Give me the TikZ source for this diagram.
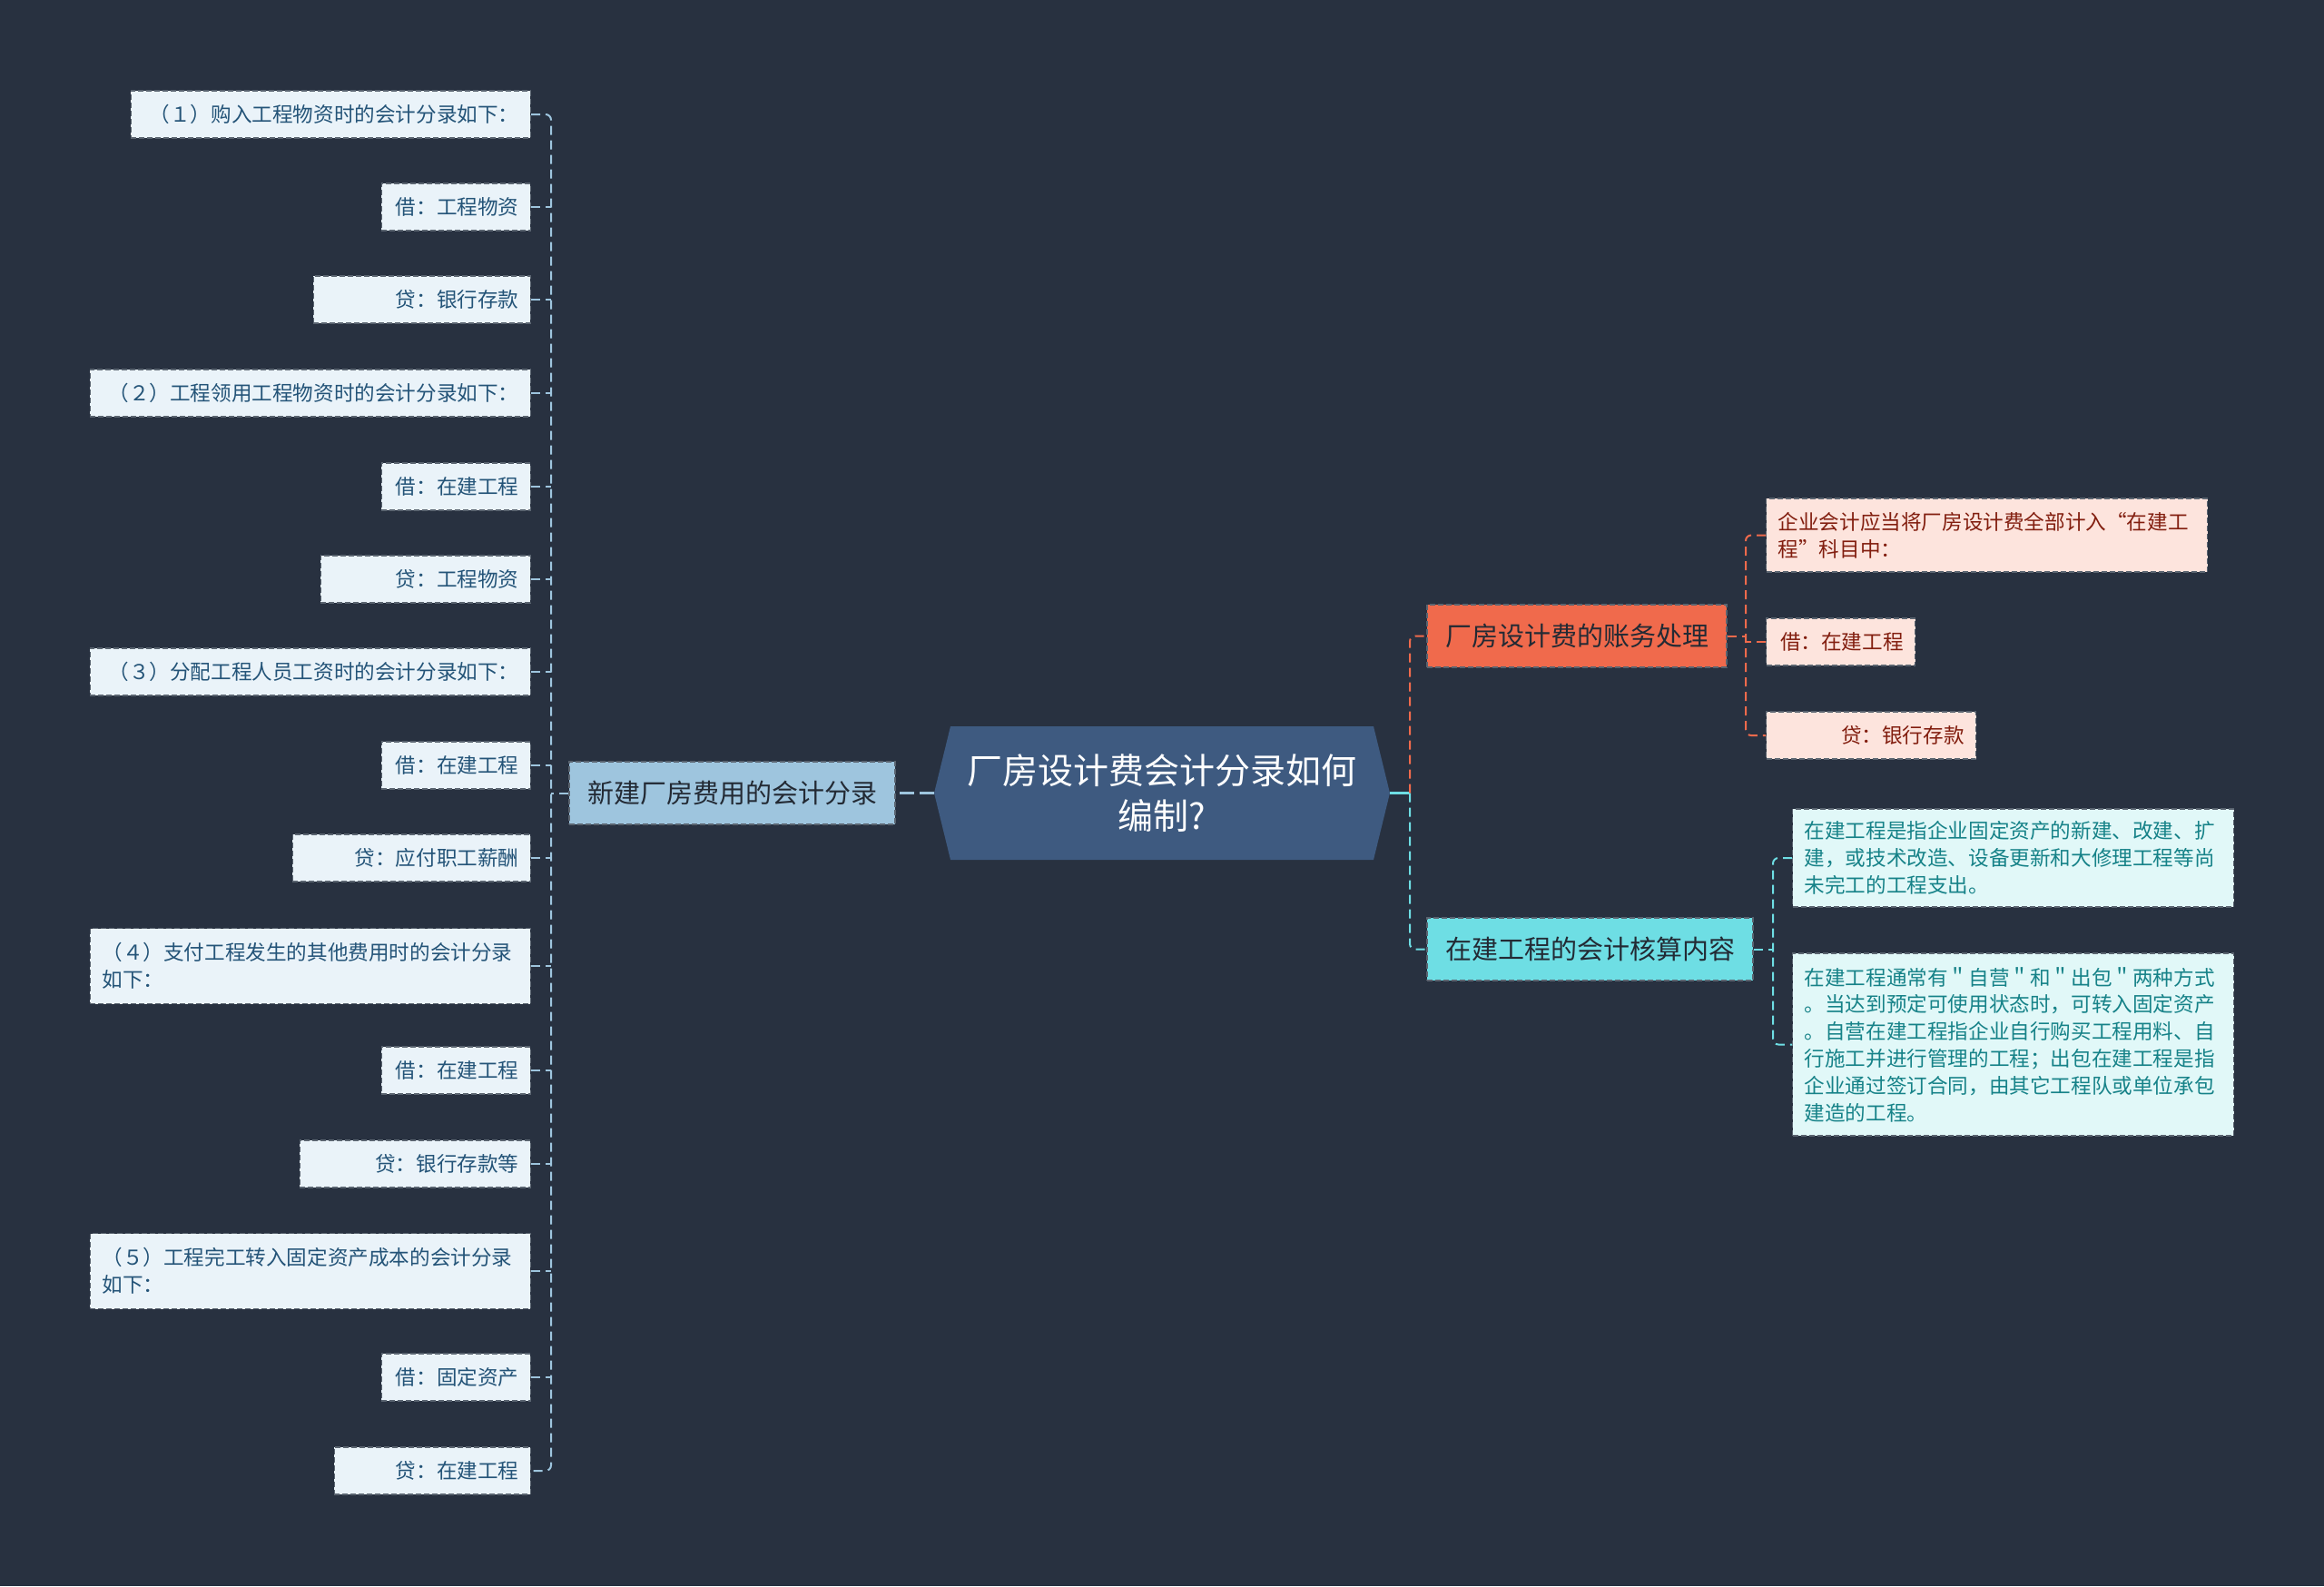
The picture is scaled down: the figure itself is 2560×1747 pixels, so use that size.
\documentclass[tikz,border=0pt]{standalone}
\usepackage{fontspec}
\setmainfont{Noto Sans CJK SC}
\newfontfamily\cjk{Noto Sans CJK SC}
\usepackage{tikz}
\usetikzlibrary{calc}
\definecolor{BgNavy}{RGB}{40, 49, 64}
\definecolor{RootBlue}{RGB}{62, 90, 128}
\definecolor{SkyBranch}{RGB}{158, 197, 222}
\definecolor{CoralBranch}{RGB}{240, 106, 76}
\definecolor{AquaBranch}{RGB}{110, 222, 228}
\definecolor{SkyLeaf}{RGB}{234, 243, 249}
\definecolor{SkyText}{RGB}{36, 84, 120}
\definecolor{CoralLeaf}{RGB}{253, 228, 221}
\definecolor{CoralText}{RGB}{130, 30, 15}
\definecolor{AquaLeaf}{RGB}{225, 248, 248}
\definecolor{AquaText}{RGB}{22, 130, 136}
\definecolor{BoxEdge}{RGB}{90, 100, 112}
\definecolor{DarkText}{RGB}{35, 42, 52}

\tikzset{
  boxbase/.style={draw=BoxEdge, line width=0.6pt, dash pattern=on 3pt off 1.5pt},
  leafL/.style={boxbase, fill=SkyLeaf, text=SkyText, font=\cjk\fontsize{11.3}{14.9}\selectfont,
    inner xsep=6.5pt, inner ysep=6pt, minimum height=26pt, text width=#1, align=right, anchor=east},
  leafCoral/.style={leafL=#1, fill=CoralLeaf, text=CoralText, anchor=west},
  leafAqua/.style={leafL=#1, fill=AquaLeaf, text=AquaText, anchor=west, align=left},
  branch/.style={boxbase, text=DarkText, font=\cjk\fontsize{14.5}{18}\selectfont,
    inner xsep=10pt, minimum height=34.5pt},
  link/.style={line width=1pt, dash pattern=on 5pt off 3pt, rounded corners=3pt},
}

\begin{document}
\begin{tikzpicture}[x=0.5pt, y=-0.5pt]
\fill[BgNavy] (0,0) rectangle (2560,1747);

% centre topic
\fill[RootBlue] (1029,873.5) -- (1047,800) -- (1513,800) -- (1531,873.5) -- (1513,947) -- (1047,947) -- cycle;
\node[font=\cjk\fontsize{19.5}{25}\selectfont, text=white, align=center, minimum width=251pt, minimum height=73.5pt] (root) at (1280,873.5) {厂房设计费会计分录如何\\编制?};

% left branch and its entries
\node[branch, fill=SkyBranch] (b1) at (806.5,873.5) {新建厂房费用的会计分录};
\node[leafL=207pt] (l1) at (585,126) {（１）购入工程物资时的会计分录如下：};
\node[leafL=69pt] (l2) at (585,228) {借：工程物资};
\node[leafL=106.5pt] (l3) at (585,330) {贷：银行存款};
\node[leafL=229.5pt] (l4) at (585,433) {（２）工程领用工程物资时的会计分录如下：};
\node[leafL=69pt] (l5) at (585,536) {借：在建工程};
\node[leafL=102.5pt] (l6) at (585,638) {贷：工程物资};
\node[leafL=229.5pt] (l7) at (585,740) {（３）分配工程人员工资时的会计分录如下：};
\node[leafL=69pt] (l8) at (585,843) {借：在建工程};
\node[leafL=118pt] (l9) at (585,945) {贷：应付职工薪酬};
\node[leafL=229.5pt, align=left, minimum height=41.5pt] (l10) at (585,1064) {（４）支付工程发生的其他费用时的会计分录\\如下：};
\node[leafL=69pt] (l11) at (585,1179) {借：在建工程};
\node[leafL=114pt] (l12) at (585,1282) {贷：银行存款等};
\node[leafL=229.5pt, align=left, minimum height=41.5pt] (l13) at (585,1400) {（５）工程完工转入固定资产成本的会计分录\\如下：};
\node[leafL=69pt] (l14) at (585,1517) {借：固定资产};
\node[leafL=95pt] (l15) at (585,1620) {贷：在建工程};

% right branches and their entries
\node[branch, fill=CoralBranch] (b2) at (1737,700.5) {厂房设计费的账务处理};
\node[branch, fill=AquaBranch] (b3) at (1751.5,1045.5) {在建工程的会计核算内容};
\node[leafCoral=230pt, align=left, minimum height=40.5pt] (ra) at (1945,589.5) {企业会计应当将厂房设计费全部计入“在建工\\程”科目中：};
\node[leafCoral=69pt] (rb) at (1945,707) {借：在建工程};
\node[leafCoral=102.5pt] (rc) at (1945,810) {贷：银行存款};
\node[leafAqua=230pt, minimum height=54pt] (rd) at (1974,945) {在建工程是指企业固定资产的新建、改建、扩\\建，或技术改造、设备更新和大修理工程等尚\\未完工的工程支出。};
\node[leafAqua=230pt, minimum height=100.5pt] (re) at (1974,1150.5) {在建工程通常有＂自营＂和＂出包＂两种方式\\。当达到预定可使用状态时，可转入固定资产\\。自营在建工程指企业自行购买工程用料、自\\行施工并进行管理的工程；出包在建工程是指\\企业通过签订合同，由其它工程队或单位承包\\建造的工程。};

% connectors
\coordinate (trunkL) at (607,0);
\coordinate (hubR) at (1553,873.5);
\coordinate (trunkCoral) at (1923,0);
\coordinate (trunkAqua) at (1953,0);

\draw[SkyBranch, line width=1.5pt, dash pattern=on 8pt off 3pt] (root.west) -- (b1.east);
\draw[SkyBranch, link] (l1.east) -- (l1.east -| trunkL) -- (l15.east -| trunkL) -- (l15.east);
\foreach \n in {l2,l3,l4,l5,l6,l7,l8,l9,l10,l11,l12,l13,l14}
  \draw[SkyBranch, link] (\n.east) -- (\n.east -| trunkL);
\draw[SkyBranch, link] (b1.west) -- (b1.west -| trunkL);

\draw[AquaBranch, line width=1.5pt] (root.east) -- (hubR);
\draw[CoralBranch, link] (hubR) |- (b2.west);
\draw[AquaBranch, link] (hubR) |- (b3.west);

\draw[CoralBranch, link] (ra.west) -- (ra.west -| trunkCoral) -- (rc.west -| trunkCoral) -- (rc.west);
\draw[CoralBranch, link] (rb.west) -- (rb.west -| trunkCoral);
\draw[CoralBranch, link] (b2.east) -- (b2.east -| trunkCoral);

\draw[AquaBranch, link] (rd.west) -- (rd.west -| trunkAqua) -- (re.west -| trunkAqua) -- (re.west);
\draw[AquaBranch, link] (b3.east) -- (b3.east -| trunkAqua);
\end{tikzpicture}
\end{document}
